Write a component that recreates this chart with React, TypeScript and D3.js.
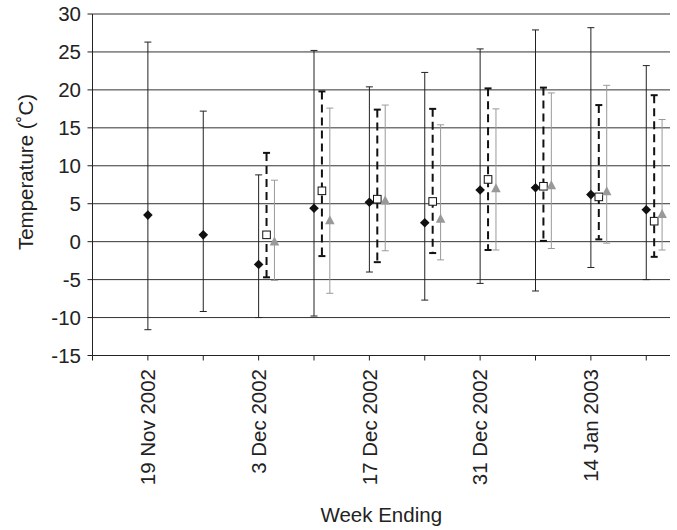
import React from 'react';
import * as d3 from 'd3';

// Week-ending dates (category positions)
const weekEnding = [
  '2002-11-19', '2002-11-26', '2002-12-03', '2002-12-10', '2002-12-17',
  '2002-12-24', '2002-12-31', '2003-01-07', '2003-01-14', '2003-01-21',
];
const labelledWeeks = ['2002-11-19', '2002-12-03', '2002-12-17', '2002-12-31', '2003-01-14'];
const labelText = ['19 Nov 2002', '3 Dec 2002', '17 Dec 2002', '31 Dec 2002', '14 Jan 2003'];
const axisStart = '2002-11-12';
const axisEnd = '2003-01-24';
const yTicks = [-15, -10, -5, 0, 5, 10, 15, 20, 25, 30];

// Series A: black diamonds, solid black range bars
const aMean = [3.5, 0.9, -3.0, 4.4, 5.2, 2.5, 6.8, 7.1, 6.2, 4.2];
const aMax = [26.3, 17.2, 8.8, 25.2, 20.4, 22.3, 25.4, 27.9, 28.2, 23.2];
const aMin = [-11.6, -9.2, -10.0, -9.8, -4.0, -7.7, -5.5, -6.5, -3.4, -5.0];

// Series B: open squares, dashed black range bars
const bMean = [null, null, 0.9, 6.7, 5.6, 5.3, 8.2, 7.3, 5.9, 2.7];
const bMax = [null, null, 11.7, 19.8, 17.4, 17.5, 20.2, 20.3, 18.0, 19.3];
const bMin = [null, null, -4.7, -1.9, -2.7, -1.5, -1.1, 0.1, 0.3, -2.0];

// Series C: grey triangles, grey range bars
const cMean = [null, null, 0.1, 2.9, 5.5, 3.1, 7.1, 7.5, 6.7, 3.7];
const cMax = [null, null, 8.1, 17.6, 18.0, 15.4, 17.5, 19.6, 20.6, 16.1];
const cMin = [null, null, -5.1, -6.8, -1.2, -2.4, -1.1, -0.9, -0.2, -1.1];

const W = 677;
const H = 530;
const FONT = '"Liberation Sans", Arial, sans-serif';
const DAY = 24 * 3600 * 1000;

const parse = (s: string) => new Date(s + 'T00:00:00Z');

export default function App() {
  const left = 92.5;
  const right = 670;
  const top = 14;
  const bottom = 355.5;

  const x = d3.scaleUtc().domain([parse(axisStart), parse(axisEnd)]).range([left, right]);
  const y = d3.scaleLinear().domain([-15, 30]).range([bottom, top]);

  const xTickDates = [parse(axisStart), ...weekEnding.map(parse)];

  const fs = 20.5;
  const ink = '#222';

  const series = [
    { mean: aMean, max: aMax, min: aMin, offset: 0, kind: 'diamond' },
    { mean: bMean, max: bMax, min: bMin, offset: 1, kind: 'square' },
    { mean: cMean, max: cMax, min: cMin, offset: 2, kind: 'triangle' },
  ];

  const marker = (kind: string, cx: number, cy: number, key: string) => {
    if (kind === 'diamond') {
      const r = 4.8;
      return (
        <path key={key} d={`M${cx},${cy - r}L${cx + r},${cy}L${cx},${cy + r}L${cx - r},${cy}Z`} fill="#111" />
      );
    }
    if (kind === 'square') {
      const r = 3.8;
      return (
        <rect key={key} x={cx - r} y={cy - r} width={2 * r} height={2 * r} fill="#fff" stroke="#111" strokeWidth={1} />
      );
    }
    const hw = 4.8;
    const hh = 4.5;
    return (
      <path key={key} d={`M${cx},${cy - hh}L${cx + hw},${cy + hh}L${cx - hw},${cy + hh}Z`} fill="#999" />
    );
  };

  const barStyle: Record<string, any> = {
    diamond: { stroke: '#222', strokeWidth: 1, cap: 3.5, capWidth: 1, dash: undefined },
    square: { stroke: '#111', strokeWidth: 2, cap: 3.5, capWidth: 2, dash: '8,5' },
    triangle: { stroke: '#9a9a9a', strokeWidth: 1, cap: 3.5, capWidth: 1, dash: undefined },
  };

  return (
    <svg
      width={W}
      height={H}
      style={{ position: 'absolute', left: 0, top: 0, background: '#fff' }}
      fontFamily={FONT}
    >
      {/* gridlines */}
      {yTicks.filter((t) => t > -15).map((t) => (
        <line key={'g' + t} x1={left} x2={right} y1={y(t)} y2={y(t)} stroke="#333" strokeWidth={1} />
      ))}
      {/* axes */}
      <line x1={left} x2={left} y1={top} y2={bottom} stroke={ink} strokeWidth={1} />
      <line x1={left} x2={right} y1={bottom} y2={bottom} stroke={ink} strokeWidth={1} />
      {/* y ticks */}
      {yTicks.map((t) => (
        <g key={'yt' + t}>
          <line x1={left - 5} x2={left} y1={y(t)} y2={y(t)} stroke={ink} strokeWidth={1} />
          <text x={81} y={y(t)} dy="0.35em" textAnchor="end" fontSize={fs} fill={ink}>
            {t}
          </text>
        </g>
      ))}
      {/* x ticks */}
      {xTickDates.map((d, i) => (
        <line key={'xt' + i} x1={x(d)} x2={x(d)} y1={bottom} y2={bottom + 5} stroke={ink} strokeWidth={1} />
      ))}
      {labelledWeeks.map((s, i) => {
        const px = x(parse(s));
        return (
          <text
            key={'xl' + s}
            transform={`translate(${px},${369}) rotate(-90)`}
            dy="0.35em"
            textAnchor="end"
            fontSize={fs}
            fill={ink}
          >
            {labelText[i]}
          </text>
        );
      })}
      {/* axis titles */}
      <text x={(left + right) / 2} y={522} textAnchor="middle" fontSize={fs} fill={ink}>
        Week Ending
      </text>
      <text transform={`translate(33,172) rotate(-90)`} textAnchor="middle" fontSize={fs} fill={ink}>
        Temperature (˚C)
      </text>
      {/* series */}
      {series.map((s, si) => {
        const st = barStyle[s.kind];
        return (
          <g key={'s' + si}>
            {weekEnding.map((w, i) => {
              if (s.mean[i] == null) return null;
              const cx = x(new Date(parse(w).getTime() + s.offset * DAY));
              const yHi = y(s.max[i] as number);
              const yLo = y(s.min[i] as number);
              return (
                <g key={'b' + i}>
                  <line x1={cx} x2={cx} y1={yHi} y2={yLo} stroke={st.stroke} strokeWidth={st.strokeWidth} strokeDasharray={st.dash} />
                  <line x1={cx - st.cap} x2={cx + st.cap} y1={yHi} y2={yHi} stroke={st.stroke} strokeWidth={st.capWidth} />
                  <line x1={cx - st.cap} x2={cx + st.cap} y1={yLo} y2={yLo} stroke={st.stroke} strokeWidth={st.capWidth} />
                </g>
              );
            })}
            {weekEnding.map((w, i) => {
              if (s.mean[i] == null) return null;
              const cx = x(new Date(parse(w).getTime() + s.offset * DAY));
              return marker(s.kind, cx, y(s.mean[i] as number), 'm' + si + '-' + i);
            })}
          </g>
        );
      })}
    </svg>
  );
}
